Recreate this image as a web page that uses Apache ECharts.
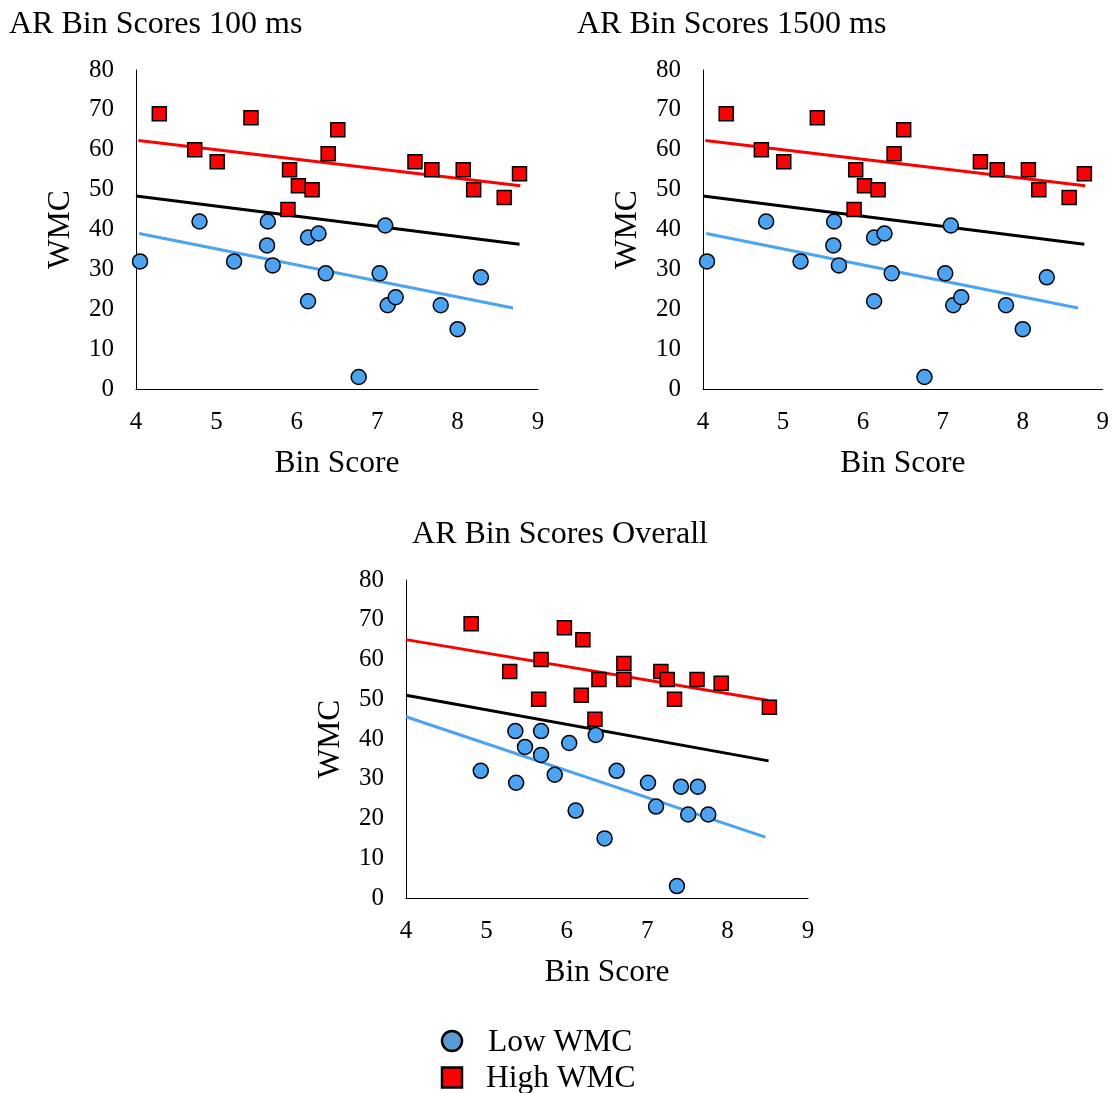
<!DOCTYPE html>
<html>
<head>
<meta charset="utf-8">
<title>AR Bin Scores</title>
<script src="https://cdn.jsdelivr.net/npm/echarts@6/dist/echarts.min.js"></script>
<style>
  html, body { margin: 0; padding: 0; background: #fff; }
  #chart { width: 1112px; height: 1093px; }
</style>
</head>
<body>
<div id="chart"></div>
<script>
// ---- Data: [bin score, WMC] ----
// 100 ms condition
const low100 = [[4.05,32],[4.79,42],[5.22,32],[5.64,42],[5.63,36],[5.70,31],[6.14,38],[6.27,39],[6.14,22],[6.36,29],[6.77,3],[7.03,29],[7.10,41],[7.13,21],[7.23,23],[7.79,21],[8.00,15],[8.29,28]];
const high100 = [[4.29,69],[4.73,60],[5.01,57],[5.43,68],[5.91,55],[6.02,51],[6.19,50],[5.89,45],[6.39,59],[6.51,65],[7.47,57],[7.68,55],[8.07,55],[8.20,50],[8.58,48],[8.77,54]];
const trendHigh100 = [[4.03,62.3],[8.78,51.0]];
const trendAll100 = [[4.00,48.4],[8.77,36.3]];
const trendLow100 = [[4.04,39.0],[8.69,20.3]];

// 1500 ms condition
const low1500 = [[4.05,32],[4.79,42],[5.22,32],[5.64,42],[5.63,36],[5.70,31],[6.14,38],[6.27,39],[6.14,22],[6.36,29],[6.77,3],[7.03,29],[7.10,41],[7.13,21],[7.23,23],[7.79,21],[8.00,15],[8.30,28]];
const high1500 = [[4.29,69],[4.73,60],[5.01,57],[5.43,68],[5.91,55],[6.02,51],[6.19,50],[5.89,45],[6.39,59],[6.51,65],[7.47,57],[7.68,55],[8.07,55],[8.20,50],[8.58,48],[8.77,54]];
const trendHigh1500 = [[4.03,62.3],[8.78,51.0]];
const trendAll1500 = [[4.00,48.4],[8.77,36.3]];
const trendLow1500 = [[4.04,39.0],[8.69,20.3]];

// Overall
const lowAll = [[4.93,32],[5.36,42],[5.48,38],[5.37,29],[5.68,42],[5.68,36],[5.85,31],[6.03,39],[6.11,22],[6.36,41],[6.47,15],[6.62,32],[7.01,29],[7.11,23],[7.37,3],[7.42,28],[7.63,28],[7.51,21],[7.76,21]];
const highAll = [[4.81,69],[5.29,57],[5.68,60],[5.65,50],[5.97,68],[6.20,65],[6.18,51],[6.35,45],[6.40,55],[6.71,59],[6.71,55],[7.17,57],[7.25,55],[7.34,50],[7.62,55],[7.92,54],[8.52,48]];
const trendHighAll = [[4.00,65.0],[8.51,49.7]];
const trendAllAll = [[4.00,51.0],[8.51,34.5]];
const trendLowAll = [[4.00,45.6],[8.47,15.3]];

const titles = ['AR Bin Scores 100 ms', 'AR Bin Scores 1500 ms', 'AR Bin Scores Overall'];
const xTicks = { min: 4, max: 9, interval: 1 };
const yTicks = { min: 0, max: 80, interval: 10 };
const xName = 'Bin Score';
const yName = 'WMC';
const lowName = 'Low WMC';
const highName = 'High WMC';

// ---- Styling ----
const FONT = '"Liberation Serif", "Times New Roman", serif';
const BLUE = '#4ba3f4';
const RED = '#ff0000';
const LEGEND_BLUE = '#5b9bd5';

const panels = [
  { low: low100, high: high100, tHigh: trendHigh100, tAll: trendAll100, tLow: trendLow100,
    grid: { left: 136, top: 70, width: 402, height: 319 }, title: { x: 9, y: 25, align: 'left' } },
  { low: low1500, high: high1500, tHigh: trendHigh1500, tAll: trendAll1500, tLow: trendLow1500,
    grid: { left: 703, top: 70, width: 402, height: 319 }, title: { x: 577, y: 25, align: 'left' } },
  { low: lowAll, high: highAll, tHigh: trendHighAll, tAll: trendAllAll, tLow: trendLowAll,
    grid: { left: 406, top: 580, width: 402, height: 318 }, title: { x: 560, y: 535, align: 'center' } }
];

const grids = [], xAxes = [], yAxes = [], series = [], graphics = [];

panels.forEach((p, i) => {
  grids.push(Object.assign({ containLabel: false }, p.grid));
  xAxes.push({
    type: 'value', gridIndex: i, min: xTicks.min, max: xTicks.max, interval: xTicks.interval,
    axisLine: { show: true, onZero: false, lineStyle: { color: '#000', width: 1 } },
    axisTick: { show: false }, splitLine: { show: false },
    axisLabel: { color: '#000', fontSize: 25, fontFamily: FONT, margin: 21 },
    name: xName, nameLocation: 'middle', nameGap: 59,
    nameTextStyle: { color: '#000', fontSize: 31.5, fontFamily: FONT }
  });
  yAxes.push({
    type: 'value', gridIndex: i, min: yTicks.min, max: yTicks.max, interval: yTicks.interval,
    axisLine: { show: true, onZero: false, lineStyle: { color: '#000', width: 1 } },
    axisTick: { show: false }, splitLine: { show: false },
    axisLabel: { color: '#000', fontSize: 25, fontFamily: FONT, margin: 22 },
    name: yName, nameLocation: 'middle', nameGap: 59, nameRotate: 90,
    nameTextStyle: { color: '#000', fontSize: 31.5, fontFamily: FONT }
  });

  const trend = (data, color, z) => ({
    type: 'line', xAxisIndex: i, yAxisIndex: i, data: data, showSymbol: false, symbol: 'none',
    silent: true, z: z, lineStyle: { color: color, width: 3 }
  });
  series.push(trend(p.tAll, '#000', 2));
  series.push(trend(p.tLow, BLUE, 2));
  series.push(trend(p.tHigh, RED, 2));

  series.push({
    name: lowName, type: 'scatter', xAxisIndex: i, yAxisIndex: i, data: p.low,
    symbol: 'circle', symbolSize: 15, z: 3,
    itemStyle: { color: BLUE, borderColor: '#000', borderWidth: 1.5, opacity: 1 }
  });
  series.push({
    name: highName, type: 'scatter', xAxisIndex: i, yAxisIndex: i, data: p.high,
    symbol: 'rect', symbolSize: 14, z: 3,
    itemStyle: { color: RED, borderColor: '#000', borderWidth: 1.5, opacity: 1 }
  });

  graphics.push({
    type: 'text', x: p.title.x, y: p.title.y,
    style: { text: titles[i], fill: '#000', font: '32px ' + FONT, textAlign: p.title.align, textVerticalAlign: 'middle' }
  });
});

// Key below the overall panel: marker swatch + label per group
const legendFont = '31.5px ' + FONT;
graphics.push(
  { type: 'circle', shape: { cx: 452, cy: 1041, r: 10 },
    style: { fill: LEGEND_BLUE, stroke: '#000', lineWidth: 2.5 } },
  { type: 'text', x: 488, y: 1043,
    style: { text: lowName, fill: '#000', font: legendFont, textAlign: 'left', textVerticalAlign: 'middle' } },
  { type: 'rect', shape: { x: 442, y: 1067.5, width: 20, height: 20 },
    style: { fill: RED, stroke: '#000', lineWidth: 2.5 } },
  { type: 'text', x: 486, y: 1079,
    style: { text: highName, fill: '#000', font: legendFont, textAlign: 'left', textVerticalAlign: 'middle' } }
);

const chart = echarts.init(document.getElementById('chart'), null, { renderer: 'canvas' });
chart.setOption({
  backgroundColor: '#fff',
  animation: false,
  grid: grids,
  xAxis: xAxes,
  yAxis: yAxes,
  series: series,
  graphic: graphics
});
</script>
</body>
</html>
